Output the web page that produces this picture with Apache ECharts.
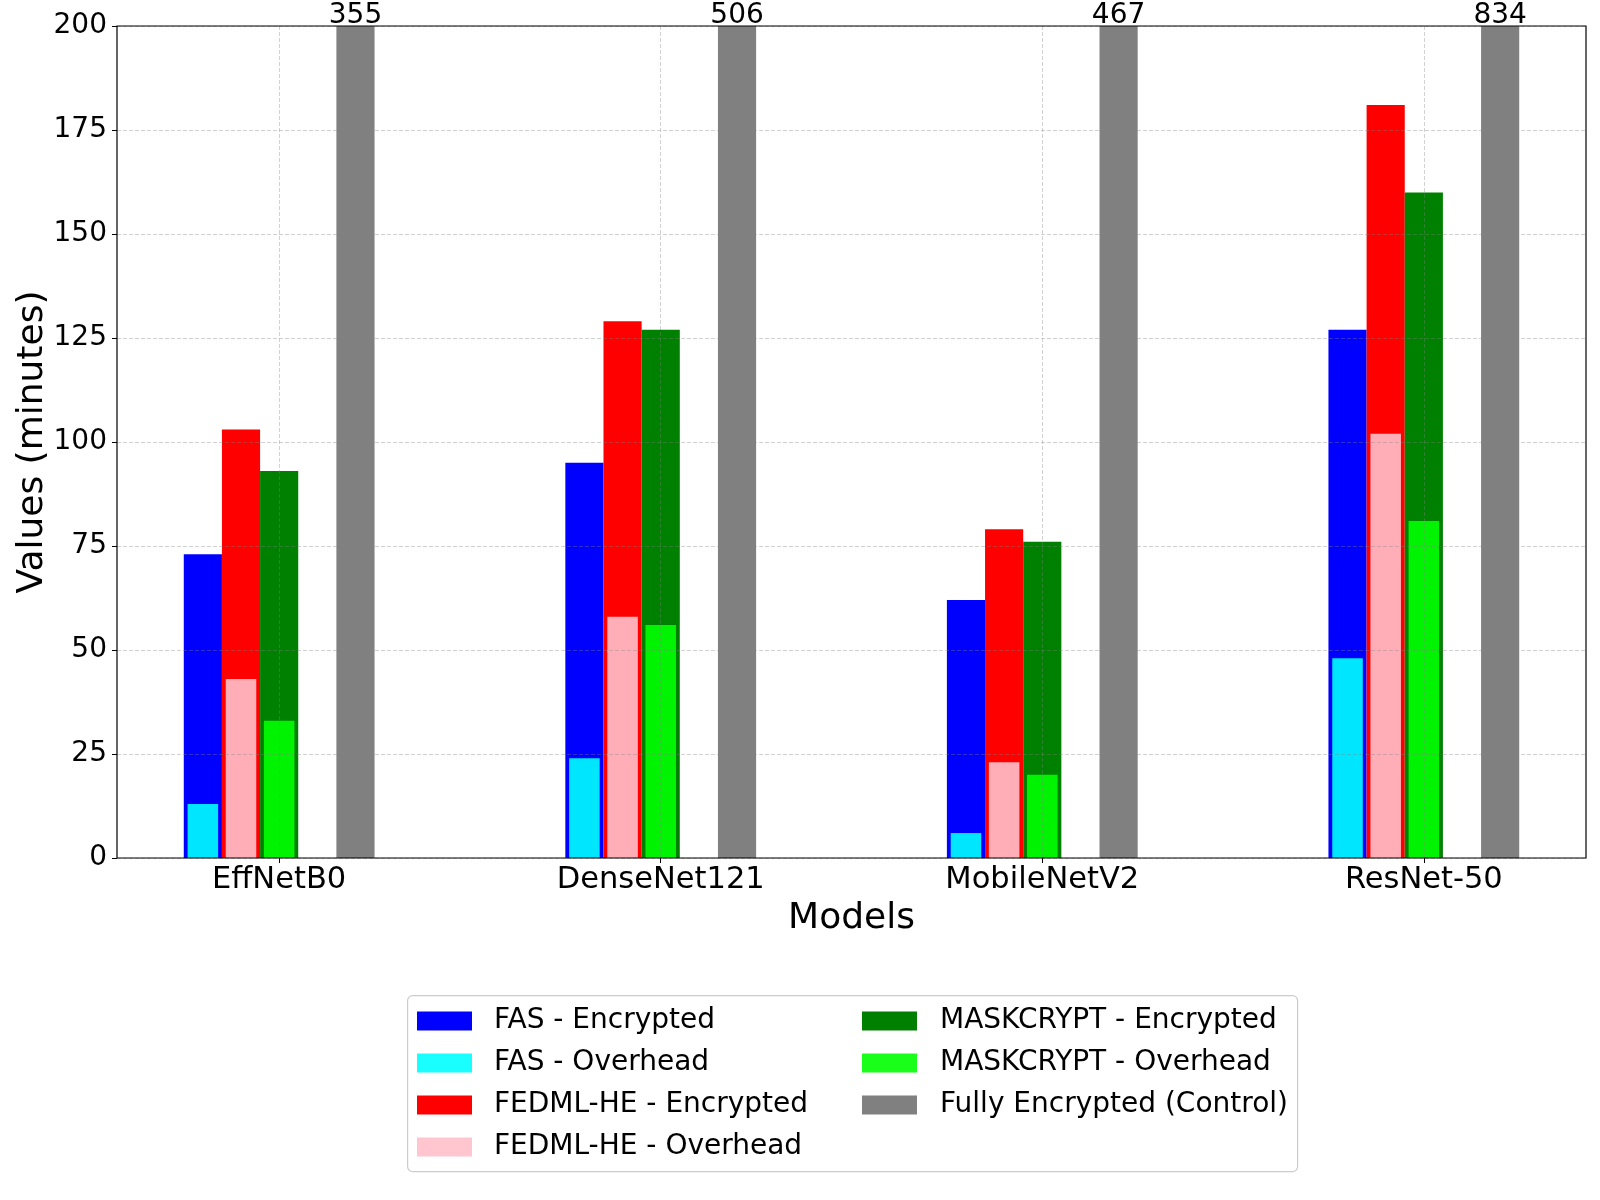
<!DOCTYPE html>
<html>
<head>
<meta charset="utf-8">
<script src="https://cdn.jsdelivr.net/npm/echarts@6/dist/echarts.min.js"></script>
<style>
html,body{margin:0;padding:0;background:#fff;}
#chart{width:1600px;height:1200px;}
</style>
</head>
<body>
<div id="chart"></div>
<script>
const models = ['EffNetB0', 'DenseNet121', 'MobileNetV2', 'ResNet-50'];
const fasEncrypted = [73, 95, 62, 127];
const fasOverhead = [13, 24, 6, 48];
const fedmlEncrypted = [103, 129, 79, 181];
const fedmlOverhead = [43, 58, 23, 102];
const maskEncrypted = [93, 127, 76, 160];
const maskOverhead = [33, 56, 20, 81];
const fullyEncrypted = [355, 506, 467, 834];
const yTicks = [0, 25, 50, 75, 100, 125, 150, 175, 200];

const FONT = 'DejaVu Sans';
const pts = arr => arr.map((v, i) => [i, v]);

function encSeries(name, data, color, extra) {
  return Object.assign({
    name: name, type: 'bar', xAxisIndex: 0, yAxisIndex: 0,
    data: data ? pts(data) : [],
    barWidth: '10%', barGap: '0%',
    itemStyle: { color: color },
    emphasis: { disabled: true },
    clip: true, z: 2
  }, extra || {});
}
function ovSeries(name, data, color) {
  return {
    name: name, type: 'bar', xAxisIndex: 1, yAxisIndex: 0,
    data: data ? pts(data) : [],
    barWidth: '8%', barGap: '25%',
    itemStyle: { color: color, opacity: 0.9 },
    emphasis: { disabled: true },
    clip: true, z: 3
  };
}

const gridLine = { show: true, lineStyle: { color: 'rgba(128,128,128,0.45)', width: 0.8, type: [4, 2] } };
const xCommon = {
  type: 'value', min: -0.425, max: 3.425, gridIndex: 0
};

const chart = echarts.init(document.getElementById('chart'), null, { renderer: 'canvas' });
chart.setOption({
  animation: false,
  backgroundColor: '#fff',
  textStyle: { fontFamily: FONT },
  grid: {
    left: 117, top: 26, width: 1469, height: 832,
    show: true, backgroundColor: 'transparent', borderColor: '#000', borderWidth: 1.2, z: 10
  },
  xAxis: [
    Object.assign({}, xCommon, {
      position: 'bottom', z: 5,
      name: 'Models', nameLocation: 'middle', nameGap: 43, nameMoveOverlap: false,
      nameTextStyle: { fontSize: 36, color: '#000', fontFamily: FONT },
      axisLine: { show: false, onZero: false },
      axisTick: { show: true, length: 5, lineStyle: { color: '#000', width: 1 }, customValues: [0, 1, 2, 3] },
      axisLabel: {
        show: true, fontSize: 30.5, color: '#000', margin: 7, fontFamily: FONT,
        customValues: [0, 1, 2, 3],
        formatter: v => models[Math.round(v)]
      },
      splitLine: gridLine
    }),
    Object.assign({}, xCommon, {
      show: false, position: 'bottom',
      axisLine: { show: false, onZero: false },
      axisLabel: { show: false }, axisTick: { show: false }, splitLine: { show: false }
    })
  ],
  yAxis: [{
    type: 'value', min: 0, max: 200, interval: 25, z: 5,
    name: 'Values (minutes)', nameLocation: 'middle', nameGap: 66, nameMoveOverlap: false,
    nameTextStyle: { fontSize: 36, color: '#000', fontFamily: FONT },
    axisLine: { show: false, onZero: false },
    axisTick: { show: true, length: 5, lineStyle: { color: '#000', width: 1 } },
    axisLabel: { fontSize: 28, color: '#000', margin: 10, fontFamily: FONT,
      formatter: v => (yTicks.indexOf(v) >= 0 ? String(v) : '') },
    splitLine: gridLine
  }],
  legend: [{
    orient: 'vertical', left: 417, top: 1007, padding: 0,
    itemWidth: 55, itemHeight: 19, itemGap: 14, icon: 'rect',
    textStyle: { fontSize: 28, color: '#000', fontFamily: FONT, lineHeight: 28, padding: [0, 0, 0, 17] },
    data: ['FAS - Encrypted', 'FAS - Overhead', 'FEDML-HE - Encrypted', 'FEDML-HE - Overhead'],
    selectedMode: false
  }, {
    orient: 'vertical', left: 862, top: 1007, padding: 0,
    itemWidth: 55, itemHeight: 19, itemGap: 14, icon: 'rect',
    textStyle: { fontSize: 28, color: '#000', fontFamily: FONT, lineHeight: 28, padding: [0, 0, 0, 18] },
    data: ['MASKCRYPT - Encrypted', 'MASKCRYPT - Overhead', 'Fully Encrypted (Control)'],
    selectedMode: false
  }],
  graphic: [{
    type: 'rect', left: 407, top: 995, z: 0,
    shape: { width: 890, height: 176, r: 5 },
    style: { fill: '#fff', stroke: '#cccccc', lineWidth: 1.2 }
  }],
  series: [
    encSeries('FAS - Encrypted', fasEncrypted, '#0000ff'),
    encSeries('FEDML-HE - Encrypted', fedmlEncrypted, '#ff0000'),
    encSeries('MASKCRYPT - Encrypted', maskEncrypted, '#008000'),
    encSeries('_gap1', null, 'transparent'),
    encSeries('Fully Encrypted (Control)', fullyEncrypted, '#808080', {
      label: {
        show: true, position: 'top', distance: -4, fontSize: 28, color: '#000', fontFamily: FONT,
        formatter: p => String(p.value[1])
      }
    }),
    ovSeries('FAS - Overhead', fasOverhead, '#00ffff'),
    ovSeries('FEDML-HE - Overhead', fedmlOverhead, '#ffc0cb'),
    ovSeries('MASKCRYPT - Overhead', maskOverhead, '#00ff00'),
    ovSeries('_gap2', null, 'transparent'),
    ovSeries('_gap3', null, 'transparent')
  ]
});
</script>
</body>
</html>
